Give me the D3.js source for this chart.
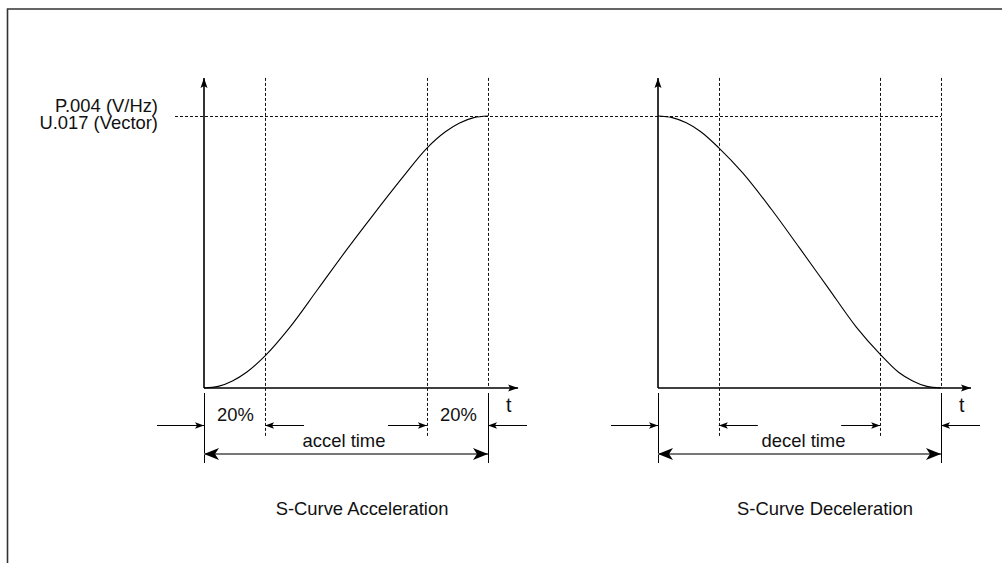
<!DOCTYPE html>
<html>
<head>
<meta charset="utf-8">
<script src="https://cdn.jsdelivr.net/npm/d3@7"></script>
<style>
    body { margin: 0; background: #fff; }
    svg { display: block; }
    text { font-family: "Liberation Sans", Arial, Helvetica, sans-serif; fill: #111; }
</style>
</head>
<body>
<div id="chart"></div>
<script>
// values (t and output both normalised to 0..1)
const panelNames = ["S-Curve Acceleration", "S-Curve Deceleration"]
const spanLabels = ["accel time", "decel time"]
const levelLabels = ["P.004 (V/Hz)", "U.017 (Vector)"]
const phaseLabel = "20%"
const phaseMarks = [0, 0.215, 0.785, 1]

const accelT = [0, 0.05, 0.1, 0.15, 0.215, 0.3, 0.4, 0.5, 0.6, 0.7, 0.785, 0.85, 0.9, 0.95, 1]
const accelV = [0, 0.006, 0.026, 0.058, 0.118, 0.22, 0.362, 0.505, 0.642, 0.775, 0.882, 0.942, 0.974, 0.994, 1]

const decelT = [0, 0.05, 0.1, 0.15, 0.214, 0.3, 0.4, 0.5, 0.6, 0.7, 0.787, 0.85, 0.9, 0.95, 1]
const decelV = [1, 0.994, 0.975, 0.943, 0.884, 0.79, 0.658, 0.515, 0.37, 0.225, 0.122, 0.058, 0.026, 0.006, 0]

const WIDTH = 1002
const HEIGHT = 563
const BASE_Y = 388
const TOP_Y = 116
const AXIS_T_MAX = 1.106
const AXIS_V_MAX = 1.14
const FONT = "18.4px"

const panels = [
    { left: 204, right: 488, titleX: 362, t: accelT, v: accelV, showPct: true },
    { left: 658, right: 941, titleX: 825, t: decelT, v: decelV, showPct: false }
]

// snap thin lines onto the pixel grid so the dashes stay dark
const crisp = v => Math.round(v) + 0.5

const svg = d3.select("#chart")
    .append("svg")
    .attr("width", WIDTH)
    .attr("height", HEIGHT)

// arrow heads
const defs = svg.append("defs")
function addMarker(id, d) {
    defs.append("marker")
        .attr("id", id)
        .attr("viewBox", "-20 -10 22 20")
        .attr("markerUnits", "userSpaceOnUse")
        .attr("markerWidth", 22)
        .attr("markerHeight", 20)
        .attr("refX", 0)
        .attr("refY", 0)
        .attr("orient", "auto-start-reverse")
        .append("path")
            .attr("d", d)
            .attr("fill", "#000")
}
addMarker("tip", "M0,0 L-10,-3.5 L-8,0 L-10,3.5 Z")
addMarker("small", "M0,0 L-9,-3.2 L-7,0 L-9,3.2 Z")
addMarker("big", "M0,0 L-15,-6 L-11,0 L-15,6 Z")

// frame
svg.append("path")
    .attr("d", `M7.5,${HEIGHT} L7.5,9 L${WIDTH},9`)
    .attr("fill", "none")
    .attr("stroke", "#333")
    .attr("stroke-width", 1.6)

const y = d3.scaleLinear().domain([0, 1]).range([BASE_Y, TOP_Y])

// level line shared by both panels
svg.append("line")
    .attr("x1", 175)
    .attr("x2", panels[1].right)
    .attr("y1", crisp(y(1)))
    .attr("y2", crisp(y(1)))
    .attr("stroke", "#111")
    .attr("stroke-dasharray", "3,2")

svg.append("text")
    .attr("text-anchor", "end")
    .attr("font-size", FONT)
    .selectAll("tspan")
    .data(levelLabels)
    .join("tspan")
        .attr("x", 158)
        .attr("y", (d, i) => 112 + i * 17)
        .text(d => d)

panels.forEach((p, pi) => {
    let x = d3.scaleLinear().domain([0, 1]).range([p.left, p.right])
    let g = svg.append("g")

    // phase guides
    g.selectAll("line.guide")
        .data(phaseMarks.slice(1))
        .join("line")
            .attr("class", "guide")
            .attr("x1", d => crisp(x(d)))
            .attr("x2", d => crisp(x(d)))
            .attr("y1", y(AXIS_V_MAX))
            .attr("y2", d => d === 1 ? BASE_Y : 437)
            .attr("stroke", "#111")
            .attr("stroke-dasharray", "3,2")

    // axes
    g.append("line")
        .attr("x1", x(0)).attr("y1", y(0))
        .attr("x2", x(0)).attr("y2", y(AXIS_V_MAX))
        .attr("stroke", "#000")
        .attr("stroke-width", 1.6)
        .attr("marker-end", "url(#tip)")
    g.append("line")
        .attr("x1", x(0)).attr("y1", y(0))
        .attr("x2", x(AXIS_T_MAX)).attr("y2", y(0))
        .attr("stroke", "#000")
        .attr("stroke-width", 1.6)
        .attr("marker-end", "url(#tip)")
    g.append("text")
        .attr("x", x(AXIS_T_MAX) - 12)
        .attr("y", 412)
        .attr("font-size", "19.5px")
        .text("t")

    // the curve
    let line = d3.line()
        .x(d => x(d[0]))
        .y(d => y(d[1]))
        .curve(d3.curveMonotoneX)
    g.append("path")
        .datum(p.t.map((t, i) => [t, p.v[i]]))
        .attr("d", line)
        .attr("fill", "none")
        .attr("stroke", "#000")
        .attr("stroke-width", 1.1)

    // extension lines for the dimension arrows
    g.selectAll("line.ext")
        .data([0, 1])
        .join("line")
            .attr("class", "ext")
            .attr("x1", d => crisp(x(d)))
            .attr("x2", d => crisp(x(d)))
            .attr("y1", 393)
            .attr("y2", 463)
            .attr("stroke", "#000")

    // 20% arrows, pointing in at each guide
    let runs = [
        { at: 0, from: -47 },
        { at: phaseMarks[1], from: 39 },
        { at: phaseMarks[2], from: -39 },
        { at: 1, from: 39 }
    ]
    g.selectAll("line.pct")
        .data(runs)
        .join("line")
            .attr("class", "pct")
            .attr("x1", d => x(d.at) + d.from)
            .attr("x2", d => x(d.at))
            .attr("y1", 425.5)
            .attr("y2", 425.5)
            .attr("stroke", "#000")
            .attr("marker-end", "url(#small)")

    if (p.showPct) {
        g.selectAll("text.pct")
            .data([[0, phaseMarks[1]], [phaseMarks[2], 1]])
            .join("text")
                .attr("class", "pct")
                .attr("x", d => (x(d[0]) + x(d[1])) / 2 + 1)
                .attr("y", 421)
                .attr("text-anchor", "middle")
                .attr("font-size", FONT)
                .text(phaseLabel)
    }

    // total time
    g.append("line")
        .attr("x1", x(0)).attr("x2", x(1))
        .attr("y1", 454).attr("y2", 454)
        .attr("stroke", "#777")
        .attr("stroke-width", 2)
        .attr("marker-start", "url(#big)")
        .attr("marker-end", "url(#big)")
    g.append("text")
        .attr("x", x(0.5) + (pi === 0 ? -2 : 4))
        .attr("y", 447)
        .attr("text-anchor", "middle")
        .attr("font-size", FONT)
        .text(spanLabels[pi])

    g.append("text")
        .attr("x", p.titleX)
        .attr("y", 515)
        .attr("text-anchor", "middle")
        .attr("font-size", FONT)
        .text(panelNames[pi])
})
</script>
</body>
</html>
